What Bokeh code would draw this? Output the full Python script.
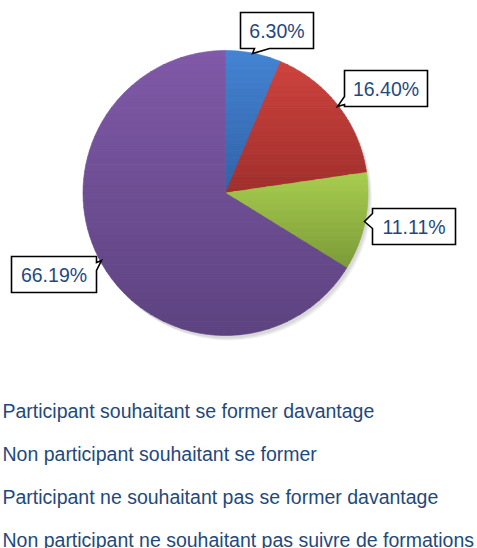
import math
from bokeh.plotting import figure
from bokeh.models import Range1d
from bokeh.core.properties import value
from bokeh.embed import file_html
from bokeh.resources import INLINE

# ---- data ----
categories = [
    "Participant souhaitant se former davantage",
    "Non participant souhaitant se former",
    "Participant ne souhaitant pas se former davantage",
    "Non participant ne souhaitant pas suivre de formations",
]
shares = [6.30, 16.40, 11.11, 66.19]
colors_top = ["#4484D4", "#CE433E", "#A8CE4F", "#8059A8"]
colors_bottom = ["#3162A6", "#A02F2C", "#7B9A38", "#5D4380"]

# ---- layout helpers (page pixels) ----
X0, Y0 = 0, 0
W, H = 477, 548
def Y(py):
    return (Y0 + H) - py

p = figure(width=W, height=H, output_backend="svg", toolbar_location=None,
           x_range=Range1d(X0, X0 + W), y_range=Range1d(0, H),
           min_border=0, min_border_left=0, min_border_right=0,
           min_border_top=0, min_border_bottom=0)
p.axis.visible = False
p.grid.visible = False
p.outline_line_color = None
p.background_fill_color = "white"
p.border_fill_color = "white"

def hex2rgb(h):
    h = h.lstrip("#")
    return tuple(int(h[i:i + 2], 16) for i in (0, 2, 4))

def mix(c1, c2, t):
    a, b = hex2rgb(c1), hex2rgb(c2)
    return "#%02x%02x%02x" % tuple(int(round(a[i] + (b[i] - a[i]) * t)) for i in range(3))

def clip(poly, ylo, yhi):
    # clip polygon (page coords) to ylo <= y <= yhi
    def clip_edge(pts, keep, inter):
        out = []
        n = len(pts)
        for i in range(n):
            cur, prev = pts[i], pts[i - 1]
            if keep(cur):
                if not keep(prev):
                    out.append(inter(prev, cur))
                out.append(cur)
            elif keep(prev):
                out.append(inter(prev, cur))
        return out
    def ix(yv):
        def f(a, b):
            t = (yv - a[1]) / (b[1] - a[1])
            return (a[0] + t * (b[0] - a[0]), yv)
        return f
    pts = clip_edge(poly, lambda q: q[1] >= ylo, ix(ylo))
    if not pts:
        return []
    pts = clip_edge(pts, lambda q: q[1] <= yhi, ix(yhi))
    return pts

cx, cy, r = 225, 192.5, 142.5
total = sum(shares)

# soft shadow
for k, a in enumerate([0.05, 0.05, 0.05]):
    p.circle(x=[cx + 2 + k], y=[Y(cy + 3 + k)], radius=r, fill_color="black",
             fill_alpha=a, line_color=None)

cum = 0.0
for i, v in enumerate(shares):
    a0 = math.pi / 2 - 2 * math.pi * cum / total
    cum += v
    a1 = math.pi / 2 - 2 * math.pi * cum / total
    n = max(8, int(abs(a1 - a0) / (math.pi / 180)))
    poly = [(cx, cy)]
    for j in range(n + 1):
        a = a0 + (a1 - a0) * j / n
        poly.append((cx + r * math.cos(a), cy - r * math.sin(a)))
    ymin = min(q[1] for q in poly)
    ymax = max(q[1] for q in poly)
    nb = 40
    xs_all, ys_all, cols = [], [], []
    for b in range(nb):
        ylo = ymin + (ymax - ymin) * b / nb
        yhi = ymin + (ymax - ymin) * (b + 1) / nb + 0.3
        part = clip(poly, ylo, yhi)
        if len(part) < 3:
            continue
        xs_all.append([q[0] for q in part])
        ys_all.append([Y(q[1]) for q in part])
        cols.append(mix(colors_top[i], colors_bottom[i], (b + 0.5) / nb))
    p.patches(xs_all, ys_all, fill_color=cols, line_color=cols, line_width=0.6)

# ---- callout labels ----
boxes = [
    dict(l=240, t=12, r=313, b=48, side="bottom", ptr=[(269, 48), (252, 53), (254, 48)]),
    dict(l=344, t=70, r=427, b=106, side="left", ptr=[(344, 104), (337, 106), (344, 96)]),
    dict(l=372, t=208, r=455, b=244, side="left", ptr=[(372, 228), (364, 221), (372, 213)]),
    dict(l=11, t=256, r=96, b=292, side="right", ptr=[(96, 262), (101, 260), (96, 270)]),
]
label_texts = [f"{v:.2f}%" for v in shares]
for bx, txt in zip(boxes, label_texts):
    l, t, rr, b = bx["l"], bx["t"], bx["r"], bx["b"]
    ptr = bx["ptr"]
    if bx["side"] == "bottom":
        pts = [(l, t), (rr, t), (rr, b)] + ptr + [(l, b)]
    elif bx["side"] == "left":
        pts = [(l, t), (rr, t), (rr, b), (l, b)] + ptr
    else:
        pts = [(l, t), (rr, t)] + ptr + [(rr, b), (l, b)]
    xs = [q[0] for q in pts]
    ys = [Y(q[1]) for q in pts]
    p.patch(xs, ys, fill_color="white", line_color="black", line_width=1.6,
            line_join="miter")
    p.text(x=[(l + rr) / 2], y=[Y((t + b) / 2)], text=[txt],
           text_align="center", text_baseline="middle",
           text_font=value("Liberation Sans"), text_font_size="19.5px",
           text_color="#1F497D")

# ---- legend (text only) ----
leg_y = [410, 453, 496, 539]
p.text(x=[2] * 4, y=[Y(v) for v in leg_y], text=categories,
       text_align="left", text_baseline="alphabetic",
       text_font=value("Liberation Sans"), text_font_size="19.5px",
       text_color="#1F497D")

open("out.html", "w").write(file_html(p, INLINE))
